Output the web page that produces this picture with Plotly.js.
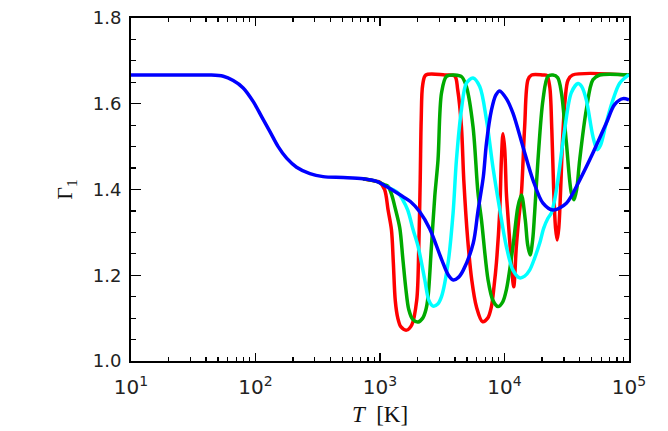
<!DOCTYPE html>
<html>
<head>
<meta charset="utf-8">
<script src="https://cdn.plot.ly/plotly-3.0.1.min.js"></script>
<style>
html,body{margin:0;padding:0;background:#ffffff;}
#chart{width:668px;height:431px;}
</style>
</head>
<body>
<div id="chart"></div>
<script>
// Temperatures given as log10(T / K); Gamma_1 values
const blueLogT = [1.000, 1.474, 1.634, 1.741, 1.821, 1.901, 1.982, 2.049, 2.116, 2.182, 2.250, 2.330, 2.437, 2.543, 2.704, 2.864, 2.972, 3.052, 3.164, 3.244, 3.319, 3.400, 3.496, 3.550, 3.589, 3.630, 3.669, 3.749, 3.787, 3.830, 3.855, 3.895, 3.930, 3.961, 4.015, 4.068, 4.148, 4.229, 4.309, 4.389, 4.497, 4.604, 4.710, 4.818, 4.884, 4.951, 5.000];
const blueGamma = [1.667, 1.667, 1.667, 1.664, 1.654, 1.637, 1.605, 1.570, 1.535, 1.500, 1.473, 1.452, 1.437, 1.430, 1.428, 1.425, 1.419, 1.407, 1.387, 1.372, 1.348, 1.308, 1.236, 1.200, 1.189, 1.195, 1.212, 1.275, 1.350, 1.430, 1.508, 1.585, 1.620, 1.630, 1.612, 1.578, 1.500, 1.422, 1.368, 1.352, 1.368, 1.422, 1.485, 1.555, 1.598, 1.612, 1.609];

const redLogT = [2.864, 2.972, 2.998, 3.038, 3.065, 3.092, 3.107, 3.123, 3.143, 3.167, 3.213, 3.255, 3.295, 3.311, 3.323, 3.331, 3.343, 3.368, 3.520, 3.600, 3.624, 3.654, 3.673, 3.705, 3.737, 3.774, 3.823, 3.865, 3.895, 3.917, 3.935, 3.961, 3.975, 3.988, 4.002, 4.015, 4.026, 4.055, 4.074, 4.095, 4.114, 4.136, 4.162, 4.189, 4.218, 4.307, 4.339, 4.363, 4.380, 4.395, 4.410, 4.423, 4.436, 4.451, 4.467, 4.487, 4.510, 4.547, 5.000];
const redGamma = [1.425, 1.419, 1.417, 1.399, 1.352, 1.306, 1.230, 1.140, 1.100, 1.080, 1.072, 1.084, 1.142, 1.259, 1.422, 1.563, 1.644, 1.667, 1.667, 1.665, 1.633, 1.547, 1.422, 1.282, 1.189, 1.127, 1.092, 1.100, 1.127, 1.177, 1.229, 1.345, 1.469, 1.530, 1.493, 1.392, 1.345, 1.229, 1.173, 1.267, 1.330, 1.392, 1.547, 1.656, 1.667, 1.667, 1.666, 1.640, 1.540, 1.400, 1.310, 1.282, 1.310, 1.400, 1.520, 1.610, 1.655, 1.667, 1.667];

const greenLogT = [2.864, 2.972, 3.038, 3.065, 3.095, 3.119, 3.159, 3.183, 3.207, 3.231, 3.263, 3.306, 3.343, 3.368, 3.386, 3.413, 3.440, 3.466, 3.494, 3.534, 3.600, 3.656, 3.694, 3.747, 3.787, 3.815, 3.868, 3.906, 3.948, 3.986, 4.015, 4.068, 4.108, 4.136, 4.167, 4.186, 4.206, 4.226, 4.242, 4.269, 4.309, 4.349, 4.389, 4.427, 4.457, 4.497, 4.537, 4.558, 4.579, 4.604, 4.657, 4.710, 4.764, 5.000];
const greenGamma = [1.425, 1.419, 1.411, 1.407, 1.387, 1.360, 1.310, 1.240, 1.170, 1.120, 1.097, 1.091, 1.100, 1.119, 1.150, 1.267, 1.384, 1.469, 1.625, 1.664, 1.667, 1.663, 1.640, 1.547, 1.392, 1.329, 1.189, 1.142, 1.127, 1.138, 1.166, 1.267, 1.360, 1.387, 1.329, 1.271, 1.247, 1.282, 1.345, 1.469, 1.609, 1.664, 1.667, 1.661, 1.626, 1.509, 1.392, 1.376, 1.399, 1.469, 1.586, 1.656, 1.667, 1.667];

const cyanLogT = [3.052, 3.100, 3.145, 3.183, 3.223, 3.266, 3.306, 3.360, 3.392, 3.426, 3.464, 3.494, 3.547, 3.587, 3.614, 3.654, 3.694, 3.747, 3.801, 3.855, 3.908, 3.961, 4.015, 4.068, 4.122, 4.162, 4.202, 4.242, 4.283, 4.315, 4.349, 4.376, 4.403, 4.429, 4.483, 4.537, 4.590, 4.620, 4.657, 4.710, 4.745, 4.772, 4.818, 4.871, 4.925, 5.000];
const cyanGamma = [1.407, 1.400, 1.392, 1.376, 1.352, 1.306, 1.267, 1.189, 1.142, 1.128, 1.133, 1.150, 1.229, 1.345, 1.469, 1.586, 1.648, 1.660, 1.640, 1.563, 1.450, 1.355, 1.267, 1.212, 1.194, 1.198, 1.212, 1.240, 1.275, 1.310, 1.333, 1.345, 1.376, 1.422, 1.539, 1.626, 1.647, 1.640, 1.609, 1.524, 1.493, 1.504, 1.556, 1.609, 1.648, 1.668];

const xTickVals = [10, 100, 1000, 10000, 100000];
const xTickText = ['10<sup>1</sup>', '10<sup>2</sup>', '10<sup>3</sup>', '10<sup>4</sup>', '10<sup>5</sup>'];
const yTickVals = [1.0, 1.2, 1.4, 1.6, 1.8];
const yTickText = ['1.0', '1.2', '1.4', '1.6', '1.8'];

// minor ticks 2..9 in each decade
const xMinorVals = [];
for (let d = 1; d < 5; d++) {
  for (let k = 2; k <= 9; k++) xMinorVals.push(k * Math.pow(10, d));
}

const toT = arr => arr.map(v => Math.pow(10, v));

function series(logT, gamma, color, name) {
  return {
    x: toT(logT), y: gamma, type: 'scatter', mode: 'lines', name: name,
    line: {color: color, width: 3.5, shape: 'spline', smoothing: 0.9},
    hoverinfo: 'skip'
  };
}

const data = [
  series(redLogT, redGamma, '#ff0000', 'red'),
  series(greenLogT, greenGamma, '#00aa00', 'green'),
  series(cyanLogT, cyanGamma, '#00ffff', 'cyan'),
  series(blueLogT, blueGamma, '#0000ff', 'blue')
];

const axisFont = {family: 'DejaVu Sans', size: 18, color: '#222222'};

const layout = {
  width: 668, height: 431,
  margin: {l: 131, r: 39, t: 18, b: 70, pad: 0},
  paper_bgcolor: '#ffffff', plot_bgcolor: '#ffffff',
  showlegend: false,
  xaxis: {
    type: 'log', range: [1, 5],
    tickmode: 'array', tickvals: xTickVals, ticktext: xTickText,
    ticks: 'inside', ticklen: 8, tickwidth: 1.4, tickcolor: '#000',
    minor: {tickmode: 'array', tickvals: xMinorVals, ticks: 'inside', ticklen: 4, tickwidth: 1.2, tickcolor: '#000', showgrid: false},
    showline: true, linecolor: '#000', linewidth: 2, mirror: 'ticks',
    showgrid: false, zeroline: false,
    tickfont: {family: 'DejaVu Sans', size: 20, color: '#222222'},
    ticklabelstandoff: 7,
    title: {text: '<i>T</i>  [K]', font: {family: 'Liberation Serif', size: 23, color: '#111111'}, standoff: 8},
    automargin: false
  },
  yaxis: {
    range: [1.0, 1.8],
    tickmode: 'array', tickvals: yTickVals, ticktext: yTickText,
    ticks: 'inside', ticklen: 10, tickwidth: 1.4, tickcolor: '#000',
    minor: {tickmode: 'linear', tick0: 1.0, dtick: 0.05, ticks: 'inside', ticklen: 5, tickwidth: 1.2, tickcolor: '#000', showgrid: false},
    showline: true, linecolor: '#000', linewidth: 2, mirror: 'ticks',
    showgrid: false, zeroline: false,
    tickfont: axisFont,
    ticklabelstandoff: 4,
    title: {text: 'Γ<sub>1</sub>', font: {family: 'Liberation Serif', size: 22, color: '#111111'}, standoff: 14},
    automargin: false
  }
};

Plotly.newPlot('chart', data, layout, {staticPlot: true, displayModeBar: false});
</script>
</body>
</html>
